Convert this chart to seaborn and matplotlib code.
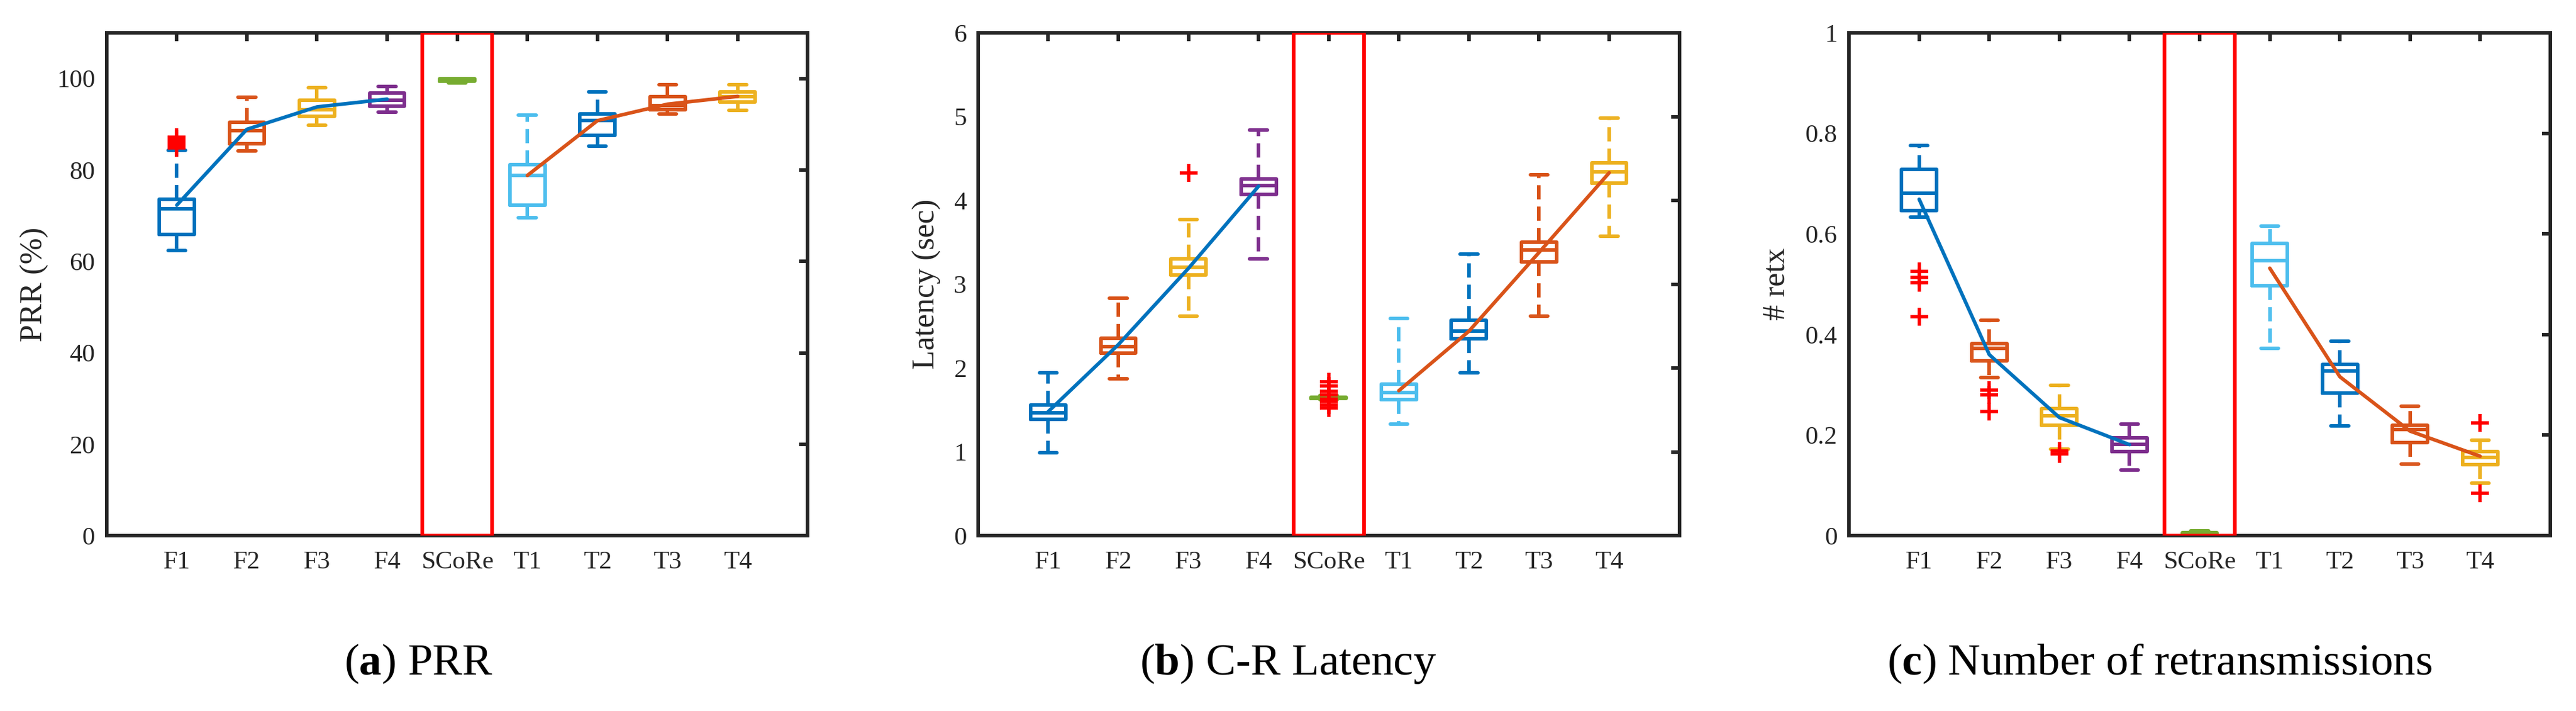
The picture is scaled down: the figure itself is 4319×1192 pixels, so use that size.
import numpy as np
import pandas as pd
import matplotlib
matplotlib.use("Agg")
import matplotlib.pyplot as plt
import seaborn as sns

# ---------------- data ----------------
cats = ["F1", "F2", "F3", "F4", "SCoRe", "T1", "T2", "T3", "T4"]
box_colors = ["#0072BD", "#D95319", "#EDB120", "#7E2F8E", "#77AC30",
              "#4DBEEE", "#0072BD", "#D95319", "#EDB120"]
f_cats = ["F1", "F2", "F3", "F4"]
t_cats = ["T1", "T2", "T3", "T4"]

# (a) PRR (%)
prr_whislo = [62.4, 84.2, 89.8, 92.7, 99.0, 69.5, 85.2, 92.3, 93.0]
prr_q1     = [65.9, 85.8, 91.7, 93.9, 99.4, 72.3, 87.6, 93.2, 94.9]
prr_med    = [71.5, 88.6, 93.2, 95.2, 99.7, 78.8, 90.8, 94.1, 96.0]
prr_q3     = [73.6, 90.4, 95.2, 96.8, 99.9, 81.2, 92.2, 96.0, 97.1]
prr_whishi = [84.3, 95.9, 98.0, 98.2, 100.0, 92.0, 97.1, 98.7, 98.7]
prr_out_cat = ["F1", "F1", "F1", "F1", "F1", "F1", "F1"]
prr_out_val = [84.8, 85.2, 85.6, 86.0, 86.4, 86.8, 87.2]
prr_line_f = [72.3, 88.9, 93.8, 95.5]
prr_line_t = [78.8, 90.8, 94.4, 96.1]

# (b) C-R latency (sec)
lat_whislo = [0.99, 1.87, 2.62, 3.30, 1.62, 1.33, 1.94, 2.62, 3.57]
lat_q1     = [1.39, 2.18, 3.11, 4.07, 1.635, 1.62, 2.35, 3.27, 4.21]
lat_med    = [1.465, 2.26, 3.20, 4.18, 1.645, 1.71, 2.44, 3.41, 4.34]
lat_q3     = [1.56, 2.355, 3.30, 4.26, 1.655, 1.81, 2.57, 3.50, 4.45]
lat_whishi = [1.94, 2.83, 3.77, 4.84, 1.67, 2.59, 3.36, 4.31, 4.98]
lat_out_cat = ["F3", "SCoRe", "SCoRe", "SCoRe", "SCoRe", "SCoRe", "SCoRe", "SCoRe", "SCoRe"]
lat_out_val = [4.33, 1.52, 1.56, 1.60, 1.63, 1.68, 1.72, 1.79, 1.84]
lat_line_f = [1.48, 2.28, 3.19, 4.17]
lat_line_t = [1.73, 2.44, 3.38, 4.33]

# (c) number of retransmissions
rtx_whislo = [0.633, 0.315, 0.172, 0.131, 0.000, 0.373, 0.218, 0.143, 0.104]
rtx_q1     = [0.647, 0.348, 0.220, 0.167, 0.002, 0.497, 0.283, 0.185, 0.141]
rtx_med    = [0.681, 0.373, 0.238, 0.181, 0.004, 0.547, 0.328, 0.211, 0.156]
rtx_q3     = [0.729, 0.382, 0.253, 0.195, 0.006, 0.581, 0.340, 0.220, 0.167]
rtx_whishi = [0.776, 0.428, 0.299, 0.222, 0.010, 0.616, 0.387, 0.258, 0.190]
rtx_out_cat = ["F1", "F1", "F1", "F1", "F2", "F2", "F2", "F3", "F3", "T4", "T4"]
rtx_out_val = [0.525, 0.514, 0.503, 0.436, 0.290, 0.280, 0.247, 0.168, 0.162, 0.224, 0.084]
rtx_line_f = [0.669, 0.360, 0.235, 0.181]
rtx_line_t = [0.532, 0.316, 0.208, 0.158]

ylabels = ["PRR (%)", "Latency (sec)", "# retx"]
ylims = [(0, 110), (0, 6), (0, 1)]
yticks = [[0, 20, 40, 60, 80, 100], [0, 1, 2, 3, 4, 5, 6], [0, 0.2, 0.4, 0.6, 0.8, 1]]
yticklabels = [["0", "20", "40", "60", "80", "100"],
               ["0", "1", "2", "3", "4", "5", "6"],
               ["0", "0.2", "0.4", "0.6", "0.8", "1"]]
captions = [r"($\mathbf{a}$) PRR", r"($\mathbf{b}$) C-R Latency",
            r"($\mathbf{c}$) Number of retransmissions"]

# ---------------- style ----------------
sns.set_theme(style="white")
plt.rcParams["font.family"] = ["Liberation Serif", "DejaVu Serif"]
plt.rcParams["mathtext.fontset"] = "custom"
plt.rcParams["mathtext.rm"] = "Liberation Serif"
plt.rcParams["mathtext.bf"] = "Liberation Serif:bold"
dark = "#262626"

fig = plt.figure(figsize=(43.19, 11.92), dpi=100)
lefts = [0.0414, 0.3797, 0.7178]
ylabel_x = [-0.082, -0.053, -0.083]
caption_x = [0.1625, 0.5001, 0.8384]

panels = [
    (prr_whislo, prr_q1, prr_med, prr_q3, prr_whishi, prr_out_cat, prr_out_val, prr_line_f, prr_line_t),
    (lat_whislo, lat_q1, lat_med, lat_q3, lat_whishi, lat_out_cat, lat_out_val, lat_line_f, lat_line_t),
    (rtx_whislo, rtx_q1, rtx_med, rtx_q3, rtx_whishi, rtx_out_cat, rtx_out_val, rtx_line_f, rtx_line_t),
]

lw_box = 4.3
for i, (wlo, q1, med, q3, whi, ocat, oval, lf, lt) in enumerate(panels):
    ax = fig.add_axes([lefts[i], 0.2466, 0.2722, 0.7072])
    rows = []
    for c, a, b, m, d, e in zip(cats, wlo, q1, med, q3, whi):
        for v in (a, b, m, d, e):
            rows.append((c, v))
    df = pd.DataFrame(rows, columns=["cat", "val"])
    sns.boxplot(data=df, x="cat", y="val", hue="cat", order=cats, hue_order=cats,
                palette=box_colors, fill=False, width=0.5, whis=(0, 100),
                showfliers=False, linewidth=lw_box, legend=False, ax=ax,
                whiskerprops=dict(linestyle=(0, (4, 2))),
                boxprops=dict(solid_joinstyle="round"))
    odf = pd.DataFrame({"cat": ocat, "val": oval})
    sns.stripplot(data=odf, x="cat", y="val", order=cats, jitter=False,
                  marker="+", color="red", size=22, linewidth=4, ax=ax, zorder=5)
    sns.pointplot(x=f_cats, y=lf, order=cats, color="#0072BD", errorbar=None,
                  marker="", linewidth=lw_box, ax=ax, zorder=6)
    sns.pointplot(x=t_cats, y=lt, order=cats, color="#D95319", errorbar=None,
                  marker="", linewidth=lw_box, ax=ax, zorder=6)
    ax.axvspan(3.5, 4.5, facecolor="none", edgecolor="red", linewidth=4.5, zorder=7)

    ax.set_xlim(-1, 9)
    ax.set_ylim(*ylims[i])
    ax.set_xticks(range(len(cats)), cats)
    ax.set_yticks(yticks[i], yticklabels[i])
    ax.set_xlabel("")
    ax.set_ylabel(ylabels[i], fontsize=38, color=dark)
    ax.yaxis.set_label_coords(ylabel_x[i], 0.5)
    for s in ax.spines.values():
        s.set_visible(True)
        s.set_linewidth(4.3)
        s.set_color(dark)
    ax.tick_params(axis="both", direction="in", top=True, right=True,
                   length=10, width=4.3, color=dark, labelcolor=dark, labelsize=31)
    ax.tick_params(axis="x", pad=18)
    ax.tick_params(axis="y", pad=14)
    fig.text(caption_x[i], 0.0663, captions[i], ha="center", va="center",
             fontsize=54, color="black")

fig.savefig("out.png", dpi=100)
